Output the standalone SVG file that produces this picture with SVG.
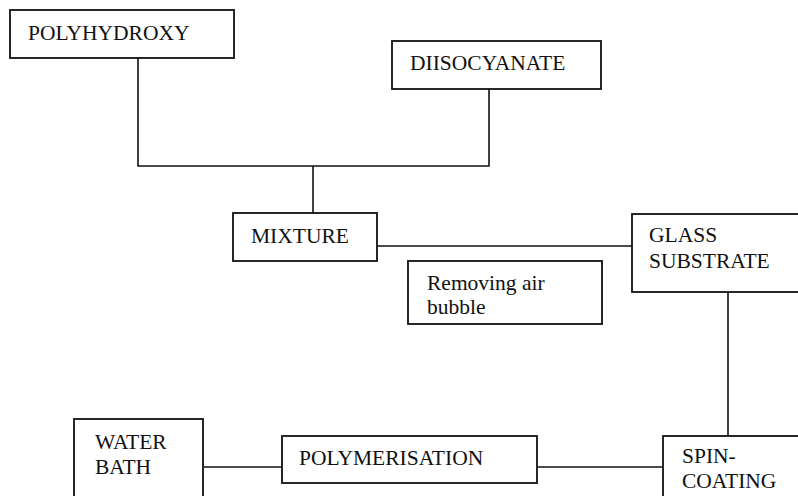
<svg xmlns="http://www.w3.org/2000/svg" width="798" height="496" viewBox="0 0 798 496">
<style>
.box{fill:#fff;stroke:#111;stroke-width:1.8}
.ln{fill:none;stroke:#111;stroke-width:1.6}
text{font-family:'Liberation Serif','Times New Roman',serif;font-size:21.5px;fill:#111}
</style>
<rect width="798" height="496" fill="#fff"/>
<g id="connectors">
<polyline class="ln" points="138,58 138,166 489,166 489,89"/>
<line class="ln" x1="313" y1="166" x2="313" y2="213"/>
<line class="ln" x1="377" y1="246" x2="632" y2="246"/>
<line class="ln" x1="728" y1="292" x2="728" y2="436"/>
<line class="ln" x1="537" y1="467" x2="663" y2="467"/>
<line class="ln" x1="203" y1="467" x2="282" y2="467"/>
</g>
<g id="polyhydroxy">
<rect class="box" x="10" y="10" width="224" height="48"/>
<text x="28" y="40">POLYHYDROXY</text>
</g>
<g id="diisocyanate">
<rect class="box" x="392" y="41" width="209" height="48"/>
<text x="410" y="70">DIISOCYANATE</text>
</g>
<g id="mixture">
<rect class="box" x="233" y="213" width="144" height="48"/>
<text x="251" y="243">MIXTURE</text>
</g>
<g id="glass-substrate">
<rect class="box" x="632" y="214" width="180" height="78"/>
<text x="649" y="242">GLASS</text>
<text x="649" y="268">SUBSTRATE</text>
</g>
<g id="removing-air-bubble">
<rect class="box" x="408" y="261" width="194" height="63"/>
<text x="427" y="290">Removing air</text>
<text x="427" y="314">bubble</text>
</g>
<g id="spin-coating">
<rect class="box" x="663" y="436" width="150" height="70"/>
<text x="682" y="463">SPIN-</text>
<text x="682" y="488">COATING</text>
</g>
<g id="polymerisation">
<rect class="box" x="282" y="436" width="255" height="47"/>
<text x="299" y="465">POLYMERISATION</text>
</g>
<g id="water-bath">
<rect class="box" x="74" y="419" width="129" height="87"/>
<text x="95" y="449">WATER</text>
<text x="95" y="474">BATH</text>
</g>
</svg>
